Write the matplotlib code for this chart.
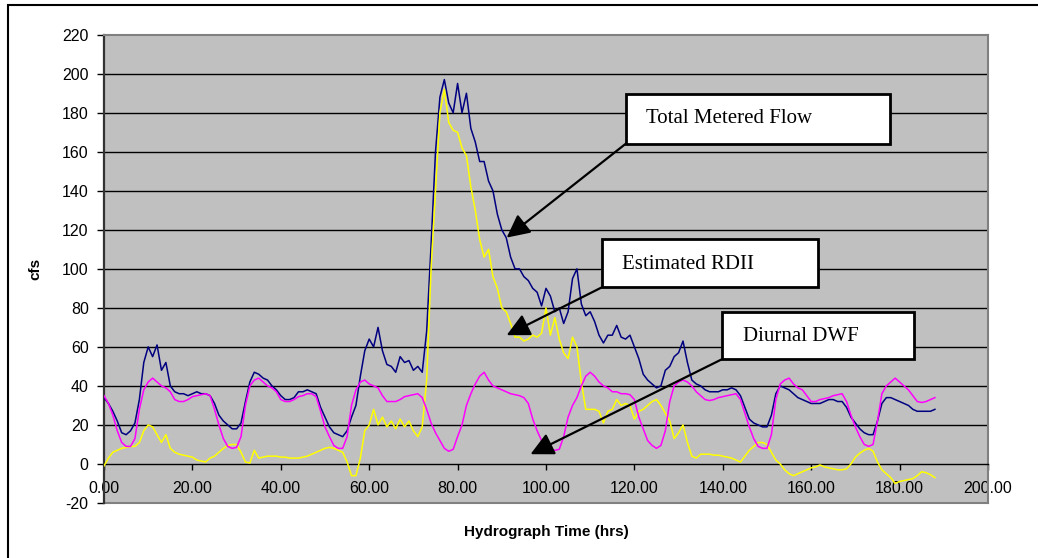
import numpy as np
import matplotlib
matplotlib.use('Agg')
from matplotlib import pyplot as plt
from matplotlib.patches import Rectangle

plt.rcParams['font.family'] = ['Liberation Sans', 'DejaVu Sans']
plt.rcParams['axes.unicode_minus'] = False

total_flow = [
    34, 31, 27, 22, 16, 15, 17, 21, 33, 52,
    60, 55, 61, 48, 52, 40, 37, 36, 36, 35,
    36, 37, 36, 36, 35, 31, 25, 22, 20, 18,
    18, 21, 32, 42, 47, 46, 44, 43, 40, 38,
    35, 33, 33, 34, 37, 37, 38, 37, 36, 29,
    24, 19, 16, 15, 14, 17, 24, 30, 45, 58,
    64, 60, 70, 58, 51, 50, 47, 55, 52, 53,
    48, 50, 47, 68, 112, 160, 188, 197, 185, 180,
    195, 180, 190, 172, 165, 155, 155, 145, 140, 128,
    120, 116, 106, 100, 100, 96, 94, 90, 88, 81,
    90, 86, 78, 80, 72, 78, 95, 100, 82, 76,
    78, 73, 66, 62, 66, 66, 71, 65, 64, 66,
    60, 54, 46, 43, 41, 39, 40, 48, 50, 55,
    57, 63, 52, 43, 41, 40, 38, 37, 37, 37,
    38, 38, 39, 38, 35, 29, 23, 21, 20, 19,
    19, 25, 36, 40, 39, 38, 36, 34, 33, 32,
    31, 31, 31, 32, 33, 33, 32, 32, 29, 24,
    21, 18, 16, 15, 15, 22, 31, 34, 34, 33,
    32, 31, 30, 28, 27, 27, 27, 27, 28,
]
rdii = [
    -1, 3, 6, 7, 8, 8.5, 9, 9, 11, 17,
    20, 19, 15, 11, 15, 8, 6, 5, 4.5, 4,
    3.5, 2, 1.5, 1, 3, 4, 6, 8, 9.5, 10,
    10, 6, 1, 0.5, 7, 3, 3.5, 4, 4, 4,
    3.5, 3.5, 3, 3, 3, 3.5, 4, 5, 6, 7,
    8, 8.5, 8, 7, 6, 1, -6, -6, 3, 17,
    20, 28, 20, 24, 19, 22, 18, 23, 19, 22,
    17, 14, 19, 43, 100, 140, 180, 192, 175, 171,
    170, 162, 158, 142, 130, 115, 106, 110, 96, 90,
    80, 78, 72, 65, 65, 63, 64, 66, 65, 67,
    80, 66, 75, 64, 57, 54, 65, 60, 42, 28,
    28, 28, 27, 21, 27, 28, 33, 30, 31, 30,
    23, 27, 28, 30, 32, 33, 30, 26, 22, 13,
    16, 20, 11, 4, 3, 5, 5, 5, 4.5, 4.5,
    4, 3.5, 3, 2, 1, 4, 7, 9, 11, 11,
    10, 6, 2, 0, -3, -5, -6, -5, -4, -3,
    -2, -1.5, -0.5, -1.5, -2, -2.5, -3, -3, -2.5, 0,
    3.5, 5.5, 7, 8, 6.5, 1, -3, -5, -7, -10,
    -9, -8.5, -8, -7.5, -6, -4, -4.5, -5.5, -7,
]
dwf = [
    35, 31, 25, 17, 11, 9, 9, 13, 28, 38,
    42, 44, 42, 40, 39, 37, 33, 32, 32, 33,
    34.5, 35, 35.5, 36, 35, 28, 20, 13, 9, 8,
    8.5, 14, 30, 40, 43, 44, 42, 40, 39, 37,
    33, 32, 32, 33, 34.5, 35, 36, 36, 34.5, 27,
    19, 14, 9.5, 8, 8, 14, 30, 38, 42, 43,
    41, 40, 39, 35, 32, 32, 32, 33, 34.5, 35,
    35.5, 36, 34, 28, 21, 16, 12, 8, 6.5, 7.5,
    14, 20, 30, 36, 41, 45, 47, 43, 40, 39,
    38, 37, 36, 35.5, 35, 34, 31, 23, 17, 12,
    8.5, 7, 7, 7.5, 14, 24, 30, 34, 40, 45,
    47, 45, 42, 40, 39, 37, 37, 36, 36, 35.5,
    33, 24, 18, 12, 9.5, 8, 9.5, 17, 32, 40,
    42, 43, 42, 40, 37, 35, 33, 32.5, 33, 34,
    34.5, 35, 35.5, 36, 33, 26, 19, 13, 9, 8,
    8, 15, 33, 41, 43, 44, 41, 39, 38, 35,
    32, 32, 33, 33.5, 34, 35, 35.5, 36, 32, 25,
    19, 14, 10, 9, 10, 22, 36, 40, 42, 44,
    42, 40, 38, 35, 32, 31.5, 32, 33, 34,
]
hours = np.arange(len(total_flow))

x_ticks = [0, 20, 40, 60, 80, 100, 120, 140, 160, 180, 200]
y_ticks = [-20, 0, 20, 40, 60, 80, 100, 120, 140, 160, 180, 200, 220]

fig = plt.figure(figsize=(10.38, 5.58), dpi=100)
ax = fig.add_axes([0.1002, 0.0986, 0.8516, 0.8392])
ax.set_facecolor('#C0C0C0')
ax.set_xlim(0, 200)
ax.set_ylim(-20, 220)

# horizontal gridlines
ax.hlines(y_ticks[2:-1], 0, 200, colors='black', lw=1.0, zorder=1)

ax.plot(hours, total_flow, c='#000080', lw=1.1, zorder=3)
ax.plot(hours, rdii, c='#FFFF00', lw=1.1, zorder=3)
ax.plot(hours, dwf, c='#FF00FF', lw=1.1, zorder=3)

# excel-like frame: x axis crosses at 0
ax.spines['bottom'].set_position(('data', 0))
ax.spines['bottom'].set_color('black')
ax.spines['bottom'].set_linewidth(1.0)
ax.spines['left'].set_color('#333333')
ax.spines['left'].set_linewidth(1.6)
for s in ['top', 'right']:
    ax.spines[s].set_color('#808080')
    ax.spines[s].set_linewidth(1.5)
ax.axhline(-20, color='#808080', lw=1.5, clip_on=False, zorder=2)

ax.set_xticks(x_ticks)
ax.set_xticklabels(['%.2f' % v for v in x_ticks])
ax.set_yticks(y_ticks)
ax.tick_params(axis='x', direction='out', length=4, width=1, labelsize=11.5, pad=8)
ax.tick_params(axis='y', direction='out', length=5, width=1, labelsize=11.5, pad=6)

ax.set_xlabel('Hydrograph Time (hrs)', fontsize=11, fontweight='bold')
ax.xaxis.set_label_coords(0.501, -0.047)
ax.set_ylabel('cfs', fontsize=11, fontweight='bold')
ax.yaxis.set_label_coords(-0.07, 0.5)

# callout boxes with arrows
callouts = [
    ('Total Metered Flow', (0.5905, 0.7676, 0.2986, 0.1066), (0.6131, 0.8209), (91.1, 116)),
    ('Estimated RDII', (0.5633, 0.4606, 0.2444, 0.1023), (0.586, 0.5096), (91.1, 66)),
    ('Diurnal DWF', (0.6991, 0.3070, 0.2172, 0.1002), (0.7229, 0.3561), (96.5, 5)),
]
for txt, (bx, by, bw, bh), (tx, ty), tip in callouts:
    ax.add_patch(Rectangle((bx, by), bw, bh, transform=ax.transAxes, facecolor='white',
                           edgecolor='black', lw=2, zorder=6))
    ax.text(tx, ty, txt, transform=ax.transAxes, va='center', ha='left', fontsize=15,
            family=['Liberation Serif', 'DejaVu Serif'], zorder=7)
    ax.annotate('', xy=tip, xycoords='data', xytext=(bx, by), textcoords='axes fraction',
                arrowprops=dict(arrowstyle='-|>,head_length=0.7,head_width=0.35', color='black',
                                lw=1.6, mutation_scale=20, shrinkA=0, shrinkB=0), zorder=5)

# outer chart border
fig.add_artist(Rectangle((0.0077, -0.1), 1.2, 1.091, transform=fig.transFigure,
                         fill=False, edgecolor='black', lw=1.5))

plt.savefig('out.png')
